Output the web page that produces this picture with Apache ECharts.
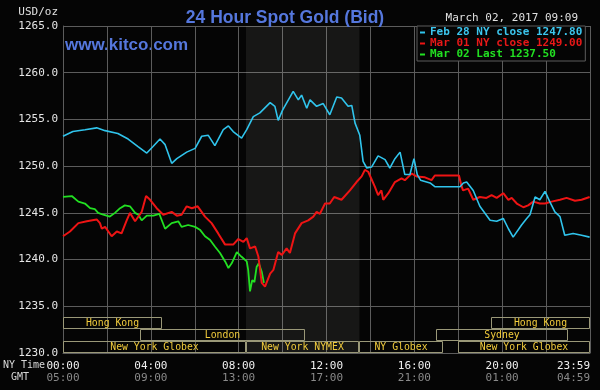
<!DOCTYPE html>
<html><head><meta charset="utf-8">
<script src="https://cdn.jsdelivr.net/npm/echarts@6/dist/echarts.min.js"></script>
<style>html,body{margin:0;padding:0;background:#050505;}#c{width:600px;height:390px;}</style>
</head><body><div id="c"></div>
<script>
// ---- data (time = minutes after 00:00 NY time, value = USD/oz) ----
const feb28Name = 'Feb 28 NY close 1247.80';
const mar01Name = 'Mar 01 NY close 1249.00';
const mar02Name = 'Mar 02 Last 1237.50';

const feb28 = [
 [0,1253.2],[27,1253.7],[60,1253.9],[92,1254.1],[115,1253.8],[150,1253.5],[178,1252.9],[205,1252.1],
 [229,1251.4],[246,1252.1],[265,1252.9],[279,1252.3],[297,1250.3],[311,1250.8],[338,1251.5],[361,1251.9],
 [379,1253.2],[397,1253.3],[415,1252.2],[438,1253.9],[452,1254.3],[465,1253.7],[488,1253.0],[502,1253.9],
 [520,1255.3],[538,1255.7],[566,1256.8],[579,1256.4],[588,1254.9],[600,1256.0],[629,1258.0],[643,1257.1],
 [652,1257.6],[666,1256.2],[675,1257.1],[693,1256.4],[711,1256.7],[729,1255.5],[734,1255.3],[748,1257.4],
 [761,1257.3],[779,1256.4],[789,1256.5],[798,1254.6],[811,1253.3],[820,1250.5],[830,1249.8],[843,1249.9],
 [861,1251.1],[880,1250.7],[893,1249.8],[907,1250.8],[921,1251.5],[934,1249.1],[948,1249.1],[959,1250.8],
 [968,1249.1],[977,1248.5],[1003,1248.2],[1016,1247.8],[1085,1247.8],[1094,1248.2],[1103,1248.3],[1121,1247.4],
 [1139,1245.7],[1167,1244.2],[1185,1244.1],[1203,1244.4],[1217,1243.3],[1230,1242.4],[1253,1243.7],[1267,1244.4],
 [1276,1244.8],[1290,1246.7],[1303,1246.4],[1317,1247.3],[1330,1246.2],[1344,1245.1],[1358,1244.6],[1371,1242.6],
 [1394,1242.8],[1417,1242.6],[1439,1242.4]
];
const mar01 = [
 [0,1242.5],[19,1243.0],[42,1243.9],[65,1244.1],[92,1244.3],[101,1243.9],[106,1243.3],[115,1243.5],
 [133,1242.5],[147,1243.0],[160,1242.8],[174,1244.2],[183,1245.0],[197,1244.1],[215,1245.1],[227,1246.8],
 [238,1246.4],[256,1245.5],[274,1244.8],[297,1245.1],[311,1244.7],[324,1244.8],[338,1245.7],[352,1245.5],
 [368,1245.7],[388,1244.6],[406,1243.9],[424,1242.8],[443,1241.6],[465,1241.6],[479,1242.2],[493,1241.9],
 [502,1242.3],[511,1241.2],[525,1241.4],[534,1240.3],[543,1237.5],[552,1237.1],[566,1238.5],[575,1238.9],
 [588,1240.8],[598,1240.5],[611,1241.2],[620,1240.7],[634,1242.8],[652,1243.9],[670,1244.2],[684,1244.6],
 [693,1245.1],[702,1244.9],[716,1246.0],[729,1246.0],[741,1246.7],[761,1246.4],[784,1247.4],[802,1248.3],
 [816,1248.9],[825,1249.6],[834,1249.4],[852,1247.8],[861,1246.9],[870,1247.4],[875,1246.4],[889,1247.1],
 [907,1248.3],[925,1248.7],[934,1248.5],[953,1249.2],[966,1248.9],[989,1248.8],[1007,1248.5],[1016,1249.0],
 [1082,1249.0],[1088,1248.0],[1093,1247.4],[1107,1247.6],[1121,1246.4],[1139,1246.7],[1157,1246.6],[1171,1246.9],
 [1185,1246.6],[1203,1247.1],[1217,1246.4],[1226,1246.6],[1240,1246.0],[1258,1245.6],[1271,1245.8],[1285,1246.2],
 [1303,1246.0],[1317,1246.0],[1335,1246.2],[1358,1246.4],[1376,1246.6],[1399,1246.3],[1417,1246.4],[1439,1246.7]
];
const mar02 = [
 [0,1246.7],[24,1246.8],[42,1246.2],[60,1246.0],[74,1245.5],[87,1245.4],[96,1245.0],[110,1244.8],
 [128,1244.6],[142,1245.0],[156,1245.5],[169,1245.8],[183,1245.7],[197,1245.0],[206,1244.8],[215,1244.2],
 [229,1244.7],[247,1244.7],[263,1244.9],[279,1243.3],[297,1243.9],[315,1244.1],[324,1243.5],[342,1243.7],
 [361,1243.5],[374,1243.2],[388,1242.5],[402,1242.1],[415,1241.4],[429,1240.7],[443,1239.8],[452,1239.1],
 [461,1239.6],[475,1240.8],[488,1240.3],[502,1239.8],[506,1238.9],[511,1236.6],[517,1237.8],[523,1237.6],
 [529,1239.2],[535,1239.6],[543,1238.7],[549,1237.5]
];

// tick labels
const tickMinutes = [0, 240, 480, 720, 960, 1200, 1440];
const nyTickLabels = ['00:00', '04:00', '08:00', '12:00', '16:00', '20:00', '23:59'];
const gmtTickLabels = ['05:00', '09:00', '13:00', '17:00', '21:00', '01:00', '04:59'];

// trading sessions: [start minute, end minute, row]
const sessionNames = ['Hong Kong', 'Hong Kong', 'London', 'Sydney', 'New York Globex', 'New York NYMEX', 'NY Globex', 'New York Globex'];
const sessionSpans = [[0,270,0],[1170,1440,0],[210,660,1],[1020,1380,1],[0,500,2],[500,810,2],[810,1038,2],[1080,1440,2]];
const nymexSpan = [[500, 810]];

// ---- chart ----
const chart = echarts.init(document.getElementById('c'));
const mono = '"DejaVu Sans Mono", monospace';
const gridColor = '#5c5c5c';

chart.setOption({
  backgroundColor: '#050505',
  animation: false,
  grid: { left: 63, right: 10, top: 26, bottom: 37, containLabel: false },
  title: {
    text: '24 Hour Spot Gold (Bid)', left: 280, top: 4, textAlign: 'center',
    textStyle: { color: '#5577dd', fontSize: 17.5, fontWeight: 'bold', fontFamily: '"Liberation Sans", Arial, sans-serif' }
  },
  legend: {
    orient: 'vertical', left: 417, top: 26, padding: [1, 3, 1, 3], itemGap: 0,
    icon: 'rect', itemWidth: 5, itemHeight: 2,
    backgroundColor: '#050505', borderColor: gridColor, borderWidth: 1,
    selectedMode: false,
    textStyle: { fontFamily: mono, fontSize: 11, fontWeight: 'bold', lineHeight: 11 },
    data: [
      { name: feb28Name, textStyle: { color: '#3cc6ee' } },
      { name: mar01Name, textStyle: { color: '#e81818' } },
      { name: mar02Name, textStyle: { color: '#22e022' } }
    ]
  },
  graphic: [
    { type: 'text', left: 65, top: 37, style: { text: 'www.kitco.com', fill: '#5577dd', font: 'bold 17px "Liberation Sans", Arial, sans-serif' } },
    { type: 'text', right: 542, top: 7, style: { text: 'USD/oz', fill: '#e0e0e0', font: '11px ' + mono } },
    { type: 'text', right: 22, top: 13, style: { text: 'March 02, 2017 09:09', fill: '#e0e0e0', font: '11px ' + mono } },
    { type: 'text', left: 3, top: 360, style: { text: 'NY Time', fill: '#d8d8d8', font: '10px ' + mono } },
    { type: 'text', left: 11, top: 372, style: { text: 'GMT', fill: '#d8d8d8', font: '10px ' + mono } }
  ],
  xAxis: {
    type: 'value', min: 0, max: 1440, interval: 120,
    axisLine: { show: true, lineStyle: { color: gridColor } },
    axisTick: { show: false },
    splitLine: { show: true, lineStyle: { color: gridColor, width: 1 } },
    axisLabel: {
      margin: 7, alignMaxLabel: 'right', showMaxLabel: true, showMinLabel: true,
      formatter: function (v) {
        const i = tickMinutes.indexOf(v);
        if (i < 0) return '';
        return '{a|' + nyTickLabels[i] + '}\n{b|' + gmtTickLabels[i] + '}';
      },
      rich: {
        a: { color: '#f0f0f0', fontFamily: mono, fontSize: 11, lineHeight: 12 },
        b: { color: '#8a8a8a', fontFamily: mono, fontSize: 11, lineHeight: 12 }
      }
    }
  },
  yAxis: {
    type: 'value', min: 1230, max: 1265, interval: 5,
    axisLine: { show: true, lineStyle: { color: gridColor } },
    axisTick: { show: false },
    splitLine: { show: true, lineStyle: { color: gridColor, width: 1 } },
    axisLabel: { margin: 5, color: '#e6e6e6', fontFamily: mono, fontSize: 11, formatter: v => v.toFixed(1) }
  },
  series: [
    {
      type: 'custom', name: 'nymex', silent: true, z: 1, clip: false,
      data: nymexSpan,
      renderItem: function (params, api) {
        const p0 = api.coord([api.value(0), 1265]);
        const p1 = api.coord([api.value(1), 1230]);
        return { type: 'rect', shape: { x: p0[0], y: p0[1], width: p1[0] - p0[0], height: p1[1] - p0[1] },
                 style: { fill: 'rgba(255,255,235,0.075)' } };
      }
    },
    {
      type: 'custom', name: 'sessions', silent: true, z: 4, clip: false,
      data: sessionSpans,
      renderItem: function (params, api) {
        const s = api.value(0), e = api.value(1), row = api.value(2);
        const rowH = 1.28;
        const top = 1230 + (3 - row) * rowH;
        const p0 = api.coord([s, top]);
        const p1 = api.coord([e, top - rowH]);
        const x0 = Math.round(p0[0]) + 0.5, y0 = Math.round(p0[1]) + 0.5;
        const x1 = Math.round(p1[0]) - 0.5, y1 = Math.round(p1[1]) - 0.5;
        return { type: 'group', children: [
          { type: 'rect', shape: { x: x0, y: y0, width: x1 - x0, height: y1 - y0 },
            style: { fill: 'none', stroke: '#9a9878', lineWidth: 1 } },
          { type: 'text', style: { text: sessionNames[params.dataIndex], x: (x0 + x1) / 2, y: (y0 + y1) / 2 + 0.5,
            align: 'center', verticalAlign: 'middle', fill: '#f2cc3c', font: '9.8px ' + mono } }
        ] };
      }
    },
    { type: 'line', name: mar02Name, data: mar02, showSymbol: false, z: 3,
      color: '#22e022', lineStyle: { color: '#22e022', width: 1.8 } },
    { type: 'line', name: mar01Name, data: mar01, showSymbol: false, z: 3,
      color: '#ee1414', lineStyle: { color: '#ee1414', width: 2 } },
    { type: 'line', name: feb28Name, data: feb28, showSymbol: false, z: 3,
      color: '#30c4ec', lineStyle: { color: '#30c4ec', width: 1.6 } }
  ]
});
</script>
</body></html>
